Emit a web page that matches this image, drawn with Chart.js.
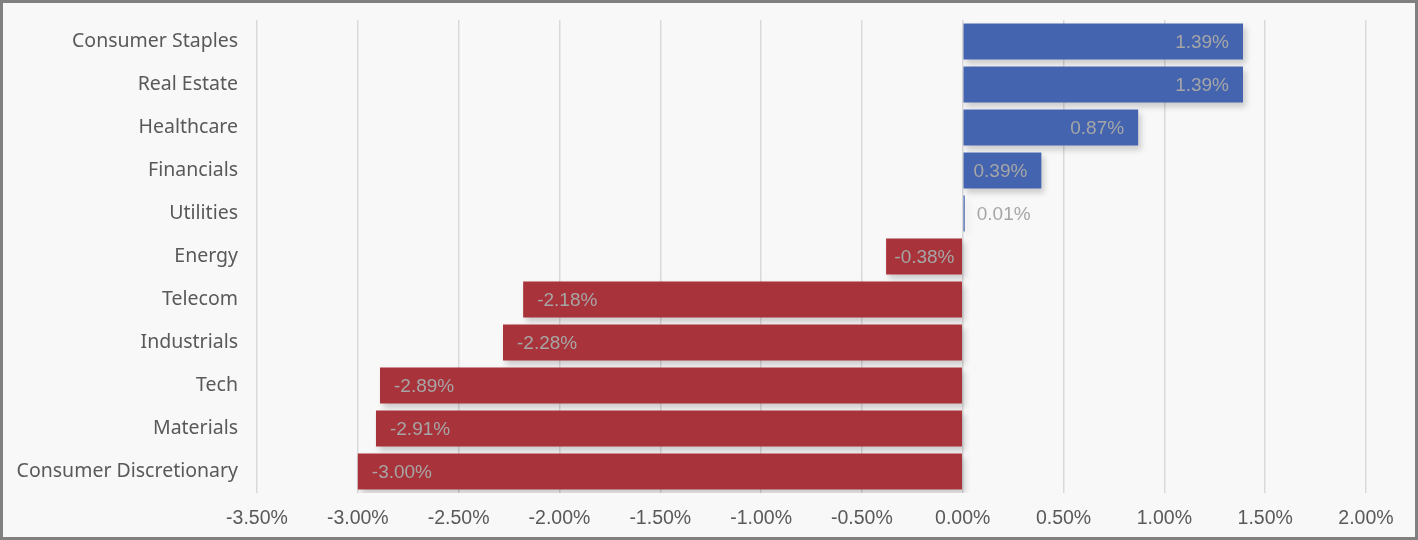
<!DOCTYPE html>
<html>
<head>
<meta charset="utf-8">
<script src="https://cdn.jsdelivr.net/npm/chart.js@4"></script>
<style>
body{margin:0;background:#fff;}
#wrap{width:1418px;height:540px;box-sizing:border-box;border:3px solid #808080;background:#f8f8f8;}
canvas{display:block;}
</style>
</head>
<body>
<div id="wrap"><canvas id="sectorChart" width="1412" height="534"></canvas></div>
<script>
// sector returns, top to bottom
const sectors = ["Consumer Staples","Real Estate","Healthcare","Financials","Utilities","Energy","Telecom","Industrials","Tech","Materials","Consumer Discretionary"];
const returns = [1.39,1.39,0.87,0.39,0.01,-0.38,-2.18,-2.28,-2.89,-2.91,-3.00];
const axisMin = -3.5;
const axisMax = 2;
const axisStep = 0.5;

const blue = "#4464af";
const red = "#a9333a";

let barColors = returns.map(v => v >= 0 ? blue : red);

function pct(v){
return v.toFixed(2)+"%";
}

// soft drop shadow under the bars
const barShadow = {
id:"barShadow",
beforeDatasetsDraw(chart){
let c = chart.ctx;
c.save();
c.shadowColor = "rgba(0,0,0,0.18)";
c.shadowBlur = 6;
c.shadowOffsetX = 3;
c.shadowOffsetY = 4;
},
afterDatasetsDraw(chart){
chart.ctx.restore();
}
};

// value labels inside the end of each bar
const valueLabels = {
id:"valueLabels",
afterDatasetsDraw(chart){
let c = chart.ctx;
let meta = chart.getDatasetMeta(0);
let zero = chart.scales.x.getPixelForValue(0);
c.save();
c.font = "19px 'Liberation Sans', Arial, sans-serif";
c.fillStyle = "#a6a6a6";
c.textBaseline = "middle";
meta.data.forEach((bar,i) => {
let v = returns[i];
let txt = pct(v);
let w = c.measureText(txt).width;
let len = Math.abs(bar.x - zero);
let x;
if(len < 10){
c.textAlign = "left";
x = bar.x + 12;
}
else if(len < w + 24){
c.textAlign = "center";
x = (bar.x + zero)/2;
}
else if(v >= 0){
c.textAlign = "right";
x = bar.x - 14;
}
else{
c.textAlign = "left";
x = bar.x + 14;
}
c.fillText(txt, x, bar.y + 1);
});
c.restore();
}
};

const ctx = document.getElementById("sectorChart");

new Chart(ctx,{
type:"bar",
data:{
labels:sectors,
datasets:[{
data:returns,
backgroundColor:barColors,
borderWidth:0,
barPercentage:0.84,
categoryPercentage:1
}]
},
options:{
indexAxis:"y",
responsive:false,
animation:false,
layout:{padding:{top:17,right:49,left:0,bottom:0}},
plugins:{legend:{display:false},tooltip:{enabled:false}},
scales:{
x:{
min:axisMin,
max:axisMax,
border:{display:false},
grid:{color:"#d9d9d9",lineWidth:1.5,drawTicks:false},
afterFit(scale){ scale.height = 44; scale.paddingLeft = 0; scale.paddingRight = 0; },
afterBuildTicks(scale){
let t = [];
for(let v = axisMin; v <= axisMax + 1e-9; v += axisStep) t.push({value:Math.round(v*100)/100});
scale.ticks = t;
},
ticks:{
padding:14,
color:"#595959",
font:{family:"'Liberation Sans', Arial, sans-serif",size:19.5},
callback:v => pct(v)
}
},
y:{
border:{display:false},
grid:{display:false,drawTicks:false},
afterFit(scale){ scale.width = 254; scale.paddingTop = 0; scale.paddingBottom = 0; },
ticks:{
padding:19,
color:"#595959",
font:{family:"'Noto Sans', sans-serif",size:19.5}
}
}
}
},
plugins:[barShadow,valueLabels]
});
</script>
</body>
</html>
